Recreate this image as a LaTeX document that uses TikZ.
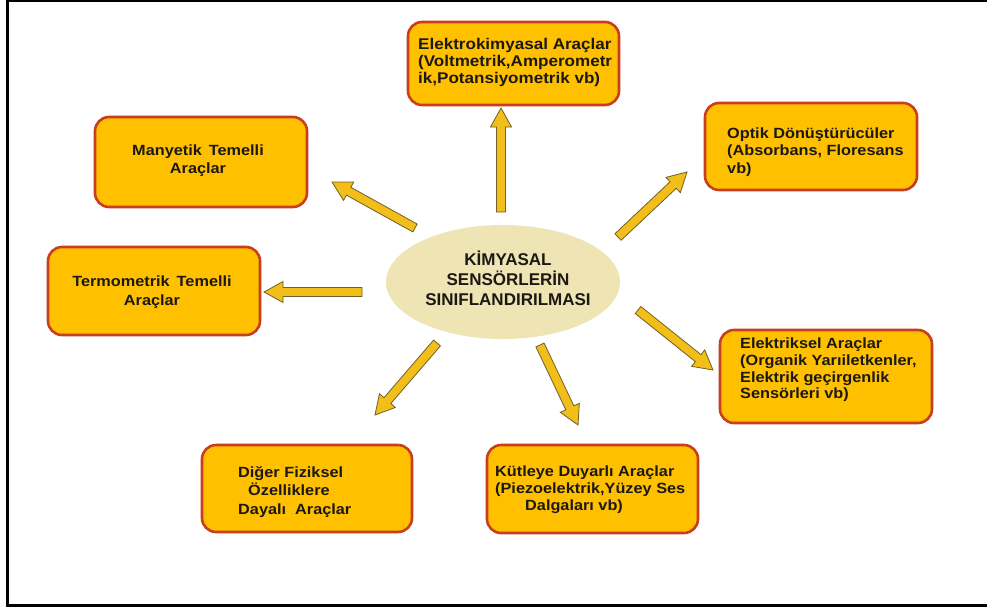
\documentclass[tikz,border=0pt]{standalone}
\usepackage{fontspec}
\setmainfont{Liberation Sans}
\newfontfamily\boxfont[FakeStretch=1.1]{Liberation Sans}
\usetikzlibrary{calc,shapes.geometric}

\definecolor{boxfill}{RGB}{255,192,0}
\definecolor{boxedge}{RGB}{200,62,30}
\definecolor{ovalfill}{RGB}{238,228,180}
\definecolor{arrowfill}{RGB}{242,190,26}
\definecolor{arrowedge}{RGB}{112,96,40}
\definecolor{ink}{RGB}{28,24,20}

\tikzset{
  cat/.style={draw=boxedge, fill=boxfill, line width=2.6pt, rounded corners=14pt, inner sep=0pt},
  cattext/.style={text=ink, inner sep=0pt, align=left},
  hub/.style={ellipse, fill=ovalfill, inner sep=0pt},
  hubtext/.style={text=ink, inner sep=0pt, align=center,
    font=\bfseries\fontsize{17}{20}\selectfont},
  blockarrow/.style={fill=arrowfill, draw=arrowedge, line width=0.8pt, line join=miter},
  frame/.style={line width=3pt, draw=black}
}

% block arrow from tail coordinate #1 to tip coordinate #2
\newcommand{\blockarrow}[2]{%
  \coordinate (#1-base) at ($(#2)!19pt!(#1)$);
  \draw[blockarrow] ($(#1)!4.5pt!90:(#2)$) -- ($(#1-base)!4.5pt!90:(#2)$)
    -- ($(#1-base)!10.5pt!90:(#2)$) -- (#2) -- ($(#1-base)!10.5pt!-90:(#2)$)
    -- ($(#1-base)!4.5pt!-90:(#2)$) -- ($(#1)!4.5pt!-90:(#2)$) -- cycle;}

\begin{document}
\begin{tikzpicture}[x=1pt,y=-1pt]
\useasboundingbox (0,0) rectangle (987,610);
\clip (0,0) rectangle (987,610);
\fill[white] (0,0) rectangle (987,610);

% outer frame
\draw[frame] (995,605) -- (7.5,605) -- (7.5,1) -- (995,1);

% central ellipse
\node[hub, minimum width=234pt, minimum height=114pt] (hub) at (503,282) {};
\node[hubtext] (hubt) at (508,278) {KİMYASAL\\SENSÖRLERİN\\SINIFLANDIRILMASI};

% category boxes
\node[cat, minimum width=211pt, minimum height=83pt] (elk) at (513.5,63.5) {};
\node[cattext, anchor=west, font=\boxfont\bfseries\fontsize{15.5}{16.6}\selectfont] (elkt) at (418,62.5)
  {Elektrokimyasal Araçlar\\(Voltmetrik,Amperometr\\ik,Potansiyometrik vb)};

\node[cat, minimum width=212pt, minimum height=87pt] (opt) at (811,146.5) {};
\node[cattext, anchor=west, font=\boxfont\bfseries\fontsize{14.8}{17.5}\selectfont] (optt) at (727,152)
  {Optik Dönüştürücüler\\(Absorbans, Floresans\\vb)};

\node[cat, minimum width=212pt, minimum height=93pt] (elc) at (826,376.5) {};
\node[cattext, anchor=west, font=\boxfont\bfseries\fontsize{14.8}{16.7}\selectfont] (elct) at (740,370)
  {Elektriksel Araçlar\\(Organik Yarıiletkenler,\\Elektrik geçirgenlik\\Sensörleri vb)};

\node[cat, minimum width=211pt, minimum height=88pt] (kut) at (592.5,489) {};
\node[cattext, anchor=west, font=\boxfont\bfseries\fontsize{14.8}{17}\selectfont] (kutt) at (495,490)
  {Kütleye Duyarlı Araçlar\\(Piezoelektrik,Yüzey Ses\\\hspace*{30pt}Dalgaları vb)};

\node[cat, minimum width=210pt, minimum height=87pt] (dig) at (307,488.5) {};
\node[cattext, anchor=west, font=\boxfont\bfseries\fontsize{14.8}{18.5}\selectfont] (digt) at (238,492)
  {Diğer Fiziksel\\\hspace*{10pt}Özelliklere\\Dayalı\ \ Araçlar};

\node[cat, minimum width=212pt, minimum height=90pt] (man) at (201,162) {};
\node[cattext, align=center, font=\boxfont\bfseries\fontsize{14.8}{18}\selectfont] (mant) at (198,161)
  {Manyetik\ \,Temelli\\Araçlar};

\node[cat, minimum width=212pt, minimum height=88pt] (ter) at (154,291) {};
\node[cattext, align=center, font=\boxfont\bfseries\fontsize{14.8}{19}\selectfont] (tert) at (152,292.5)
  {Termometrik\ \,Temelli\\Araçlar};

% arrow end points
\coordinate (upS) at (501,212);   \coordinate (upE) at (501,108);
\coordinate (urS) at (618,237);   \coordinate (urE) at (687,172);
\coordinate (rdS) at (638,310);   \coordinate (rdE) at (713,370);
\coordinate (drS) at (540,345);   \coordinate (drE) at (578,425);
\coordinate (dlS) at (437,343);   \coordinate (dlE) at (375,415);
\coordinate (lfS) at (362,292);   \coordinate (lfE) at (264,292);
\coordinate (ulS) at (415,228);   \coordinate (ulE) at (332,182);

\blockarrow{upS}{upE}
\blockarrow{urS}{urE}
\blockarrow{rdS}{rdE}
\blockarrow{drS}{drE}
\blockarrow{dlS}{dlE}
\blockarrow{lfS}{lfE}
\blockarrow{ulS}{ulE}
\end{tikzpicture}
\end{document}
